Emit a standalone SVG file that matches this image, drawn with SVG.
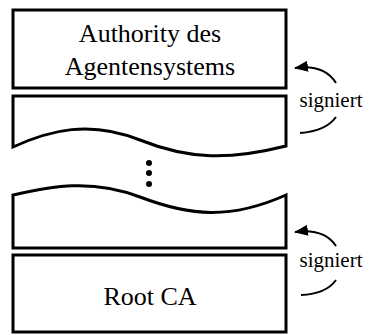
<svg xmlns="http://www.w3.org/2000/svg" width="372" height="335" viewBox="0 0 372 335">
  <style>
    .box { fill: #fff; stroke: #000; stroke-width: 3; stroke-linejoin: miter; }
    .lbl { font-size: 26px; fill: #000; text-anchor: middle; }
    .sig { font-size: 21px; fill: #000; text-anchor: middle; }
    .arc { fill: none; stroke: #000; stroke-width: 2; }
  </style>
  <defs>
    <marker id="head" viewBox="0 0 14 11" refX="13" refY="5.5" markerWidth="14" markerHeight="11" markerUnits="userSpaceOnUse" orient="auto">
      <path d="M0,0 L14,5.5 L0,11 Z" fill="#000"/>
    </marker>
  </defs>
  <rect width="372" height="335" fill="#fff"/>

  <g font-family="Liberation Serif, DejaVu Serif, serif">
    <g id="authority">
      <rect class="box" x="13" y="10" width="273" height="78"/>
      <text class="lbl" x="150" y="42">Authority des</text>
      <text class="lbl" x="150" y="75">Agentensystems</text>
    </g>

    <g id="intermediate-upper">
      <path class="box" d="M13,147 V96 H286 V146 C230,160 190,160 140,140 C90,120 50,130 13,147 Z"/>
    </g>

    <g id="ellipsis">
      <circle cx="149" cy="163" r="3"/>
      <circle cx="149" cy="173" r="3"/>
      <circle cx="149" cy="184" r="3"/>
    </g>

    <g id="intermediate-lower">
      <path class="box" d="M13,195 C50,187 90,178 140,197 C190,216 230,220 286,195 V248 H13 Z"/>
    </g>

    <g id="root-ca">
      <rect class="box" x="13" y="255" width="273" height="77"/>
      <text class="lbl" x="150" y="305">Root CA</text>
    </g>

    <g id="connectors">
      <g id="sign-upper">
        <path class="arc" d="M336,83 Q324,64 295,68" marker-end="url(#head)"/>
        <text class="sig" x="331" y="107">signiert</text>
        <path class="arc" d="M300,133 Q326,131 336,117"/>
      </g>
      <g id="sign-lower">
        <path class="arc" d="M336,246 Q324,228 295,232" marker-end="url(#head)"/>
        <text class="sig" x="331" y="267">signiert</text>
        <path class="arc" d="M301,295 Q326,294 336,280"/>
      </g>
    </g>
  </g>
</svg>
